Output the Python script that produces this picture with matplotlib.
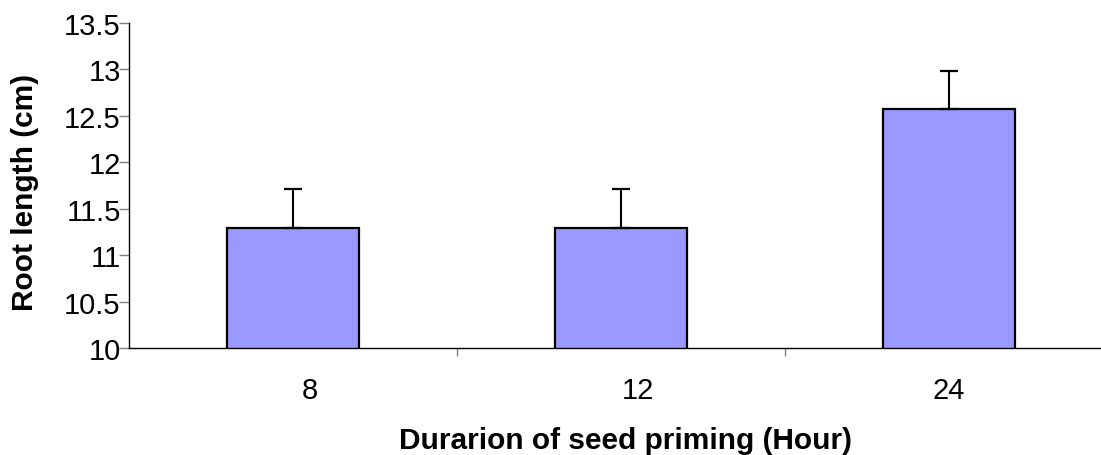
import matplotlib
matplotlib.use("Agg")
import matplotlib.pyplot as plt
import numpy as np

plt.rcParams['font.family'] = ['Liberation Sans', 'DejaVu Sans']

# Root length by seed priming duration
durations = ["8", "12", "24"]
root_length = [11.29, 11.29, 12.57]
std_error = [0.42, 0.42, 0.41]

W, H = 1101, 456
fig = plt.figure(figsize=(W / 100, H / 100), dpi=100)
ax = fig.add_axes([129 / W, 1 - 349 / H, (1113 - 129) / W, (349 - 24) / H])

x = np.arange(len(durations))
ax.bar(x, root_length, width=0.405, bottom=0, color="#9999FF",
       edgecolor="black", linewidth=1.6, zorder=2)
ax.errorbar(x, root_length, yerr=[np.zeros(len(x)), std_error], fmt="none",
            ecolor="black", elinewidth=1.5, capsize=6.5, capthick=1.6, zorder=3)

ax.set_xlim(-0.5, 2.5)
ax.set_ylim(10, 13.5)
ax.set_yticks(np.arange(10, 13.51, 0.5))
ax.set_yticklabels(["10", "10.5", "11", "11.5", "12", "12.5", "13", "13.5"])

# ticks at category boundaries; category labels sit below each bar
ax.set_xticks([0.5, 1.5])
ax.set_xticklabels([])
label_shift = [0.052, 0.052, 0.0]
ax.set_xticks(x + np.array(label_shift), minor=True)
ax.set_xticklabels(durations, minor=True)
ax.tick_params(axis="x", which="minor", length=0, pad=20, labelsize=21)
ax.tick_params(axis="x", which="major", length=6, width=1, color="#808080", direction="out")
ax.tick_params(axis="y", length=7, width=1, color="#808080", direction="out",
               pad=-1, labelsize=21)

for side in ["top", "right"]:
    ax.spines[side].set_visible(False)
for side in ["left", "bottom"]:
    ax.spines[side].set_linewidth(1.0)
    ax.spines[side].set_color("black")

fig.text(625 / W, 1 - 449 / H, "Durarion of seed priming (Hour)", fontsize=21.5,
         fontweight="bold", ha="center", va="baseline")
fig.text(25.5 / W, 1 - 192.5 / H, "Root length (cm)", fontsize=21.5,
         fontweight="bold", ha="center", va="center", rotation=90)

fig.savefig("out.png", dpi=100)
